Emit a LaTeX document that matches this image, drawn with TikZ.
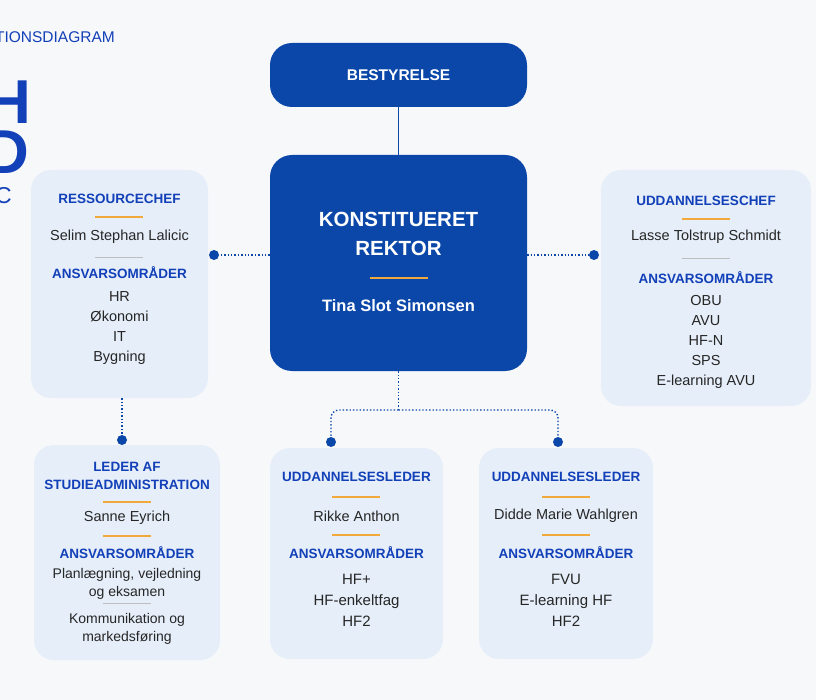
\documentclass[tikz,border=0pt]{standalone}
\usepackage{fontspec}
\setmainfont{Liberation Sans}
\usetikzlibrary{positioning}
\definecolor{navy}{HTML}{0A47A8}
\definecolor{cardbg}{HTML}{E6EEF9}
\definecolor{pagebg}{HTML}{F7F8FA}
\definecolor{accent}{HTML}{F2A93B}
\definecolor{titleblue}{HTML}{1240B8}
\tikzset{
  box/.style={fill=navy, rounded corners=22pt, text=white, font=\bfseries},
  card/.style={fill=cardbg, rounded corners=20pt},
  head/.style={text=titleblue, font=\fontsize{13.5}{16}\selectfont\bfseries, align=center},
  item/.style={text=black!85, font=\fontsize{14.5}{19}\selectfont, align=center},
  dot/.style={circle, fill=navy, inner sep=0pt, minimum size=10pt},
  link/.style={navy, line width=1.4pt, dotted},
  rule/.style={accent, line width=1.4pt},
  grey rule/.style={black!25, line width=0.8pt},
  letter/.style={anchor=east, inner sep=0pt, text=titleblue}
}
\begin{document}
\begin{tikzpicture}[x=1pt, y=-1pt]
                \clip (0,0) rectangle (816,700);
                \fill[pagebg] (0,0) rectangle (816,700);

                % Heading at left edge
                \node at (115,37) (orgtitle) [letter, font=\fontsize{15.5}{17}\selectfont] {ORGANISATIONSDIAGRAM};
                \node at (31,102) (bigh) [letter, font=\fontsize{62}{62}\selectfont\bfseries] {H};
                \node at (29,152) (bigd) [letter, font=\fontsize{62}{62}\selectfont\bfseries] {D};
                \node at (12,196) (smallc) [letter, font=\fontsize{23}{24}\selectfont] {C};

                % Top boxes
                \node at (398.5,75) (board) [box, minimum width=257pt, minimum height=64pt, font=\fontsize{15.5}{18}\selectfont\bfseries] {BESTYRELSE};
                \node at (398.5,263) (rector) [box, minimum width=257pt, minimum height=216pt] {};
                \node at (398.5,234) (rectortitle) [text=white, align=center, font=\fontsize{20.5}{29}\selectfont\bfseries] {KONSTITUERET\\REKTOR};
                \draw[rule] (370,278) -- (428,278);
                \node at (398.5,306) (rectorname) [text=white, font=\fontsize{16.5}{19}\selectfont\bfseries] {Tina Slot Simonsen};

                % Cards
                \node at (119.5,284) (resource) [card, minimum width=177pt, minimum height=228pt] {};
                \node at (706,288) (educhief) [card, minimum width=210pt, minimum height=236pt] {};
                \node at (127,552.5) (studadm) [card, minimum width=186pt, minimum height=215pt] {};
                \node at (356.5,553.5) (lead1) [card, minimum width=173pt, minimum height=211pt] {};
                \node at (566,553.5) (lead2) [card, minimum width=174pt, minimum height=211pt] {};

                % Ressourcechef
                \node at (119.5,199) (resourcehead) [head] {RESSOURCECHEF};
                \draw[rule] (95,217) -- (143,217);
                \node at (119.5,237) (resourcename) [item] {Selim Stephan Lalicic};
                \draw[grey rule] (95,257) -- (143,257);
                \node at (119.5,273) (resourcearea) [head] {ANSVARSOMRÅDER};
                \node at (119.5,328) (resourceitems) [item, font=\fontsize{14.5}{20}\selectfont] {HR\\Økonomi\\IT\\Bygning};

                % Uddannelseschef
                \node at (706,201) (educhiefhead) [head] {UDDANNELSESCHEF};
                \draw[rule] (682,219) -- (730,219);
                \node at (706,237) (educhiefname) [item] {Lasse Tolstrup Schmidt};
                \draw[grey rule] (682,258) -- (730,258);
                \node at (706,278) (educhiefarea) [head] {ANSVARSOMRÅDER};
                \node at (706,342) (educhiefitems) [item, font=\fontsize{14.5}{20}\selectfont] {OBU\\AVU\\HF-N\\SPS\\E-learning AVU};

                % Leder af studieadministration
                \node at (127,476) (studadmhead) [head, font=\fontsize{13.5}{18}\selectfont\bfseries] {LEDER AF\\STUDIEADMINISTRATION};
                \draw[rule] (103,502) -- (151,502);
                \node at (127,518) (studadmname) [item] {Sanne Eyrich};
                \draw[rule] (103,536) -- (151,536);
                \node at (127,553) (studadmarea) [head] {ANSVARSOMRÅDER};
                \node at (127,584) (studadmitems) [item, font=\fontsize{14}{18}\selectfont] {Planlægning, vejledning\\og eksamen};
                \draw[grey rule] (103,603) -- (151,603);
                \node at (127,628.5) (studadmmore) [item, font=\fontsize{14}{18}\selectfont] {Kommunikation og\\markedsføring};

                % Uddannelsesleder 1
                \node at (356.5,477) (lead1head) [head] {UDDANNELSESLEDER};
                \draw[rule] (332,497) -- (380,497);
                \node at (356.5,516) (lead1name) [item] {Rikke Anthon};
                \draw[rule] (332,535) -- (380,535);
                \node at (356.5,553) (lead1area) [head] {ANSVARSOMRÅDER};
                \node at (356.5,600) (lead1items) [item, font=\fontsize{15}{21}\selectfont] {HF+\\HF-enkeltfag\\HF2};

                % Uddannelsesleder 2
                \node at (566,477) (lead2head) [head] {UDDANNELSESLEDER};
                \draw[rule] (542,497) -- (590,497);
                \node at (566,516) (lead2name) [item] {Didde Marie Wahlgren};
                \draw[rule] (542,535) -- (590,535);
                \node at (566,553) (lead2area) [head] {ANSVARSOMRÅDER};
                \node at (566,600) (lead2items) [item, font=\fontsize{15}{21}\selectfont] {FVU\\E-learning HF\\HF2};

                % Dots
                \node at (214,255) (dotleft) [dot] {};
                \node at (594,255) (dotright) [dot] {};
                \node at (122,440) (dotadm) [dot] {};
                \node at (331,442) (dotlead1) [dot] {};
                \node at (558,442) (dotlead2) [dot] {};
                \coordinate (split) at (398.5,410);

                % Connectors
                \draw[navy, line width=1.4pt] (board) -- (rector);
                \draw[link] (rector.west |- dotleft) -- (dotleft);
                \draw[link] (rector.east |- dotright) -- (dotright);
                \draw[link] (resource.south -| dotadm) -- (dotadm);
                \draw[link] (rector) -- (split);
                \draw[link, rounded corners=8pt] (split) -| (dotlead1);
                \draw[link, rounded corners=8pt] (split) -| (dotlead2);

            \end{tikzpicture}
\end{document}
